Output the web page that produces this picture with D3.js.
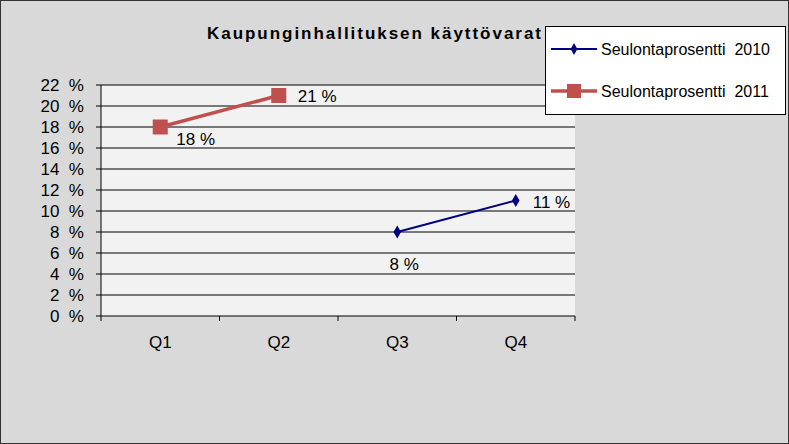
<!DOCTYPE html><html><head><meta charset="utf-8"><script src="https://cdn.jsdelivr.net/npm/d3@7"></script>
<style>body{margin:0;background:#fff}</style></head><body><svg id="c" width="789" height="444"></svg>
<script>
const categories=["Q1","Q2","Q3","Q4"];
const s2010=[null,null,8,11];
const s2011=[18,21,null,null];
const yTicks=[0,2,4,6,8,10,12,14,16,18,20,22];
const svg=d3.select("#c"),F="Liberation Sans, Arial, sans-serif";
svg.append("rect").attr("x",0.5).attr("y",0.5).attr("width",788).attr("height",443).attr("fill","#d9d9d9").attr("stroke","#333");
const x=d3.scaleBand().domain(categories).range([101,575]);
const y=d3.scaleLinear().domain([0,22]).range([316,85]);
svg.append("rect").attr("x",101).attr("y",85).attr("width",474).attr("height",231).attr("fill","#f2f2f2");
yTicks.forEach(t=>{svg.append("line").attr("x1",101).attr("x2",575).attr("y1",y(t)).attr("y2",y(t)).attr("stroke","#000").attr("stroke-width",1);
 svg.append("line").attr("x1",96).attr("x2",101).attr("y1",y(t)).attr("y2",y(t)).attr("stroke","#000");
 svg.append("text").attr("x",84).attr("y",y(t)+6).attr("text-anchor","end").attr("font-family",F).attr("font-size",17).attr("xml:space","preserve").text(t+"  %");});
svg.append("line").attr("x1",101).attr("x2",101).attr("y1",85).attr("y2",321).attr("stroke","#000");
categories.forEach((c,i)=>{const xx=x(c)+x.bandwidth();svg.append("line").attr("x1",xx).attr("x2",xx).attr("y1",316).attr("y2",321).attr("stroke","#000");
 svg.append("text").attr("x",x(c)+x.bandwidth()/2).attr("y",348).attr("text-anchor","middle").attr("font-family",F).attr("font-size",17).text(c);});
svg.append("text").attr("x",374).attr("y",39).attr("text-anchor","middle").attr("font-family",F).attr("font-size",17).attr("font-weight","bold").attr("textLength",334).text("Kaupunginhallituksen käyttövarat");
const cx=i=>x(categories[i])+x.bandwidth()/2;
const line=d3.line().defined(d=>d!=null).x((d,i)=>cx(i)).y(d=>y(d));
svg.append("path").datum(s2010).attr("d",line).attr("fill","none").attr("stroke","#000080").attr("stroke-width",2);
svg.append("path").datum(s2011).attr("d",line).attr("fill","none").attr("stroke","#c0504d").attr("stroke-width",3.5);
s2010.forEach((v,i)=>{if(v==null)return;svg.append("path").attr("d",d3.symbol(d3.symbolDiamond,50)()).attr("transform",`translate(${cx(i)},${y(v)})`).attr("fill","#000080");});
s2011.forEach((v,i)=>{if(v==null)return;svg.append("rect").attr("x",cx(i)-7.5).attr("y",y(v)-7.5).attr("width",15).attr("height",15).attr("fill","#c0504d");});
const lab=(i,v,dx,dy,anchor)=>svg.append("text").attr("x",cx(i)+dx).attr("y",y(v)+dy).attr("text-anchor",anchor).attr("font-family",F).attr("font-size",17).attr("xml:space","preserve").text(v+" %");
lab(0,18,16,18,"start");lab(1,21,19,6,"start");lab(2,8,7,38,"middle");lab(3,11,17,7,"start");
const lg=svg.append("g");
lg.append("rect").attr("x",545.5).attr("y",26.5).attr("width",240).attr("height",88).attr("fill","#fff").attr("stroke","#000");
lg.append("line").attr("x1",551).attr("x2",597).attr("y1",49).attr("y2",49).attr("stroke","#000080").attr("stroke-width",2);
lg.append("path").attr("d",d3.symbol(d3.symbolDiamond,40)()).attr("transform","translate(574,49)").attr("fill","#000080");
lg.append("line").attr("x1",551).attr("x2",597).attr("y1",91).attr("y2",91).attr("stroke","#c0504d").attr("stroke-width",3.5);
lg.append("rect").attr("x",567).attr("y",84).attr("width",14).attr("height",14).attr("fill","#c0504d");
lg.append("text").attr("x",601).attr("y",55).attr("font-family",F).attr("font-size",16).attr("xml:space","preserve").text("Seulontaprosentti  2010");
lg.append("text").attr("x",601).attr("y",97).attr("font-family",F).attr("font-size",16).attr("xml:space","preserve").text("Seulontaprosentti  2011");
</script></body></html>
